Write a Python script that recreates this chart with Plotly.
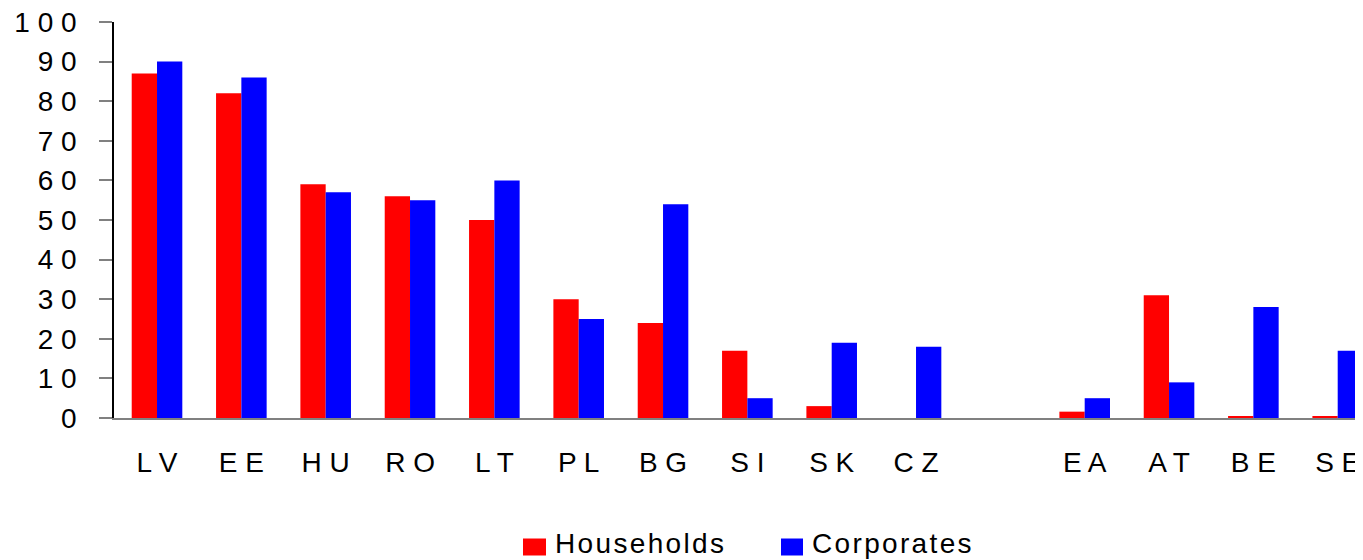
import plotly.graph_objects as go

categories = ["LV", "EE", "HU", "RO", "LT", "PL", "BG", "SI", "SK", "CZ", " ", "EA", "AT", "BE", "SE"]
households = [87, 82, 59, 56, 50, 30, 24, 17, 3, 0, None, 1.6, 31, 0.4, 0.4]
corporates = [90, 86, 57, 55, 60, 25, 54, 5, 19, 18, None, 5, 9, 28, 17]
y_ticks = [0, 10, 20, 30, 40, 50, 60, 70, 80, 90, 100]
series_names = ["Households", "Corporates"]
series_colors = ["#ff0000", "#0000ff"]

FONT = "Liberation Sans, Arial, sans-serif"


def spaced(s, sep=" "):
    return sep.join(list(s))


fig = go.Figure()
for name, vals, col in zip(series_names, [households, corporates], series_colors):
    fig.add_trace(go.Bar(x=categories, y=vals, name=name, marker=dict(color=col, line=dict(width=0))))

# page body has an 8px margin, so the figure is sized/offset to compensate
fig.update_layout(
    width=1355, height=552,
    margin=dict(l=106, r=0, t=14, b=142),
    paper_bgcolor="white", plot_bgcolor="white",
    barmode="group", bargap=0.4, bargroupgap=0,
    showlegend=False,
    font=dict(family=FONT, size=28, color="black"),
)
fig.update_xaxes(
    type="category", categoryorder="array", categoryarray=categories,
    range=[-0.51, 14.30],
    tickmode="array", tickvals=categories, ticktext=[spaced(c) for c in categories],
    showline=True, linecolor="#808080", linewidth=2,
    ticks="", showgrid=False, zeroline=False,
    ticklabelstandoff=18, ticklabeloverflow="allow",
    tickfont=dict(family=FONT, size=28, color="black"),
)
fig.update_yaxes(
    range=[0, 100],
    tickmode="array", tickvals=y_ticks, ticktext=[spaced(str(v)) for v in y_ticks],
    showline=True, linecolor="black", linewidth=1.5,
    ticks="outside", ticklen=13, tickcolor="#808080", tickwidth=1.5,
    showgrid=False, zeroline=False,
    ticklabelstandoff=17, ticklabeloverflow="allow",
    tickfont=dict(family=FONT, size=28, color="black"),
)

# legend drawn as squares + text (positions in screen px of the page)
W, H0, PH = 1249.0, 418.5, 396.0
def px(x):
    return (x - 114) / W
def py(y):
    return (H0 - y) / PH

legend_items = [(523, 546, 553), (781, 803, 810)]
for (x0, x1, tx), name, col in zip(legend_items, series_names, series_colors):
    fig.add_shape(type="rect", xref="paper", yref="paper",
                  x0=px(x0), x1=px(x1), y0=py(556), y1=py(539),
                  fillcolor=col, line=dict(width=0))
    fig.add_annotation(xref="paper", yref="paper", x=px(tx), y=py(544),
                       xanchor="left", yanchor="middle", showarrow=False,
                       text=spaced(name, "\u200a"),
                       font=dict(family=FONT, size=28, color="black"))

fig.write_html("out.html")
